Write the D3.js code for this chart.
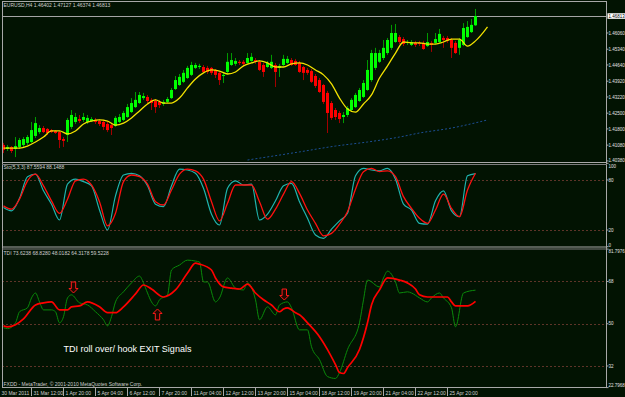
<!DOCTYPE html>
<html>
<head>
<meta charset="utf-8">
<script src="https://cdn.jsdelivr.net/npm/d3@7"></script>
<style>
  html, body { margin: 0; padding: 0; background: #021302; }
  svg { display: block; font-family: "Liberation Sans", Arial, sans-serif; }
</style>
</head>
<body>
<div id="chart"></div>
<script>
// EURUSD H4 candles (bar 0 = first visible bar)
const barOpen = [1.4109,1.4091,1.4100,1.4091,1.4100,1.4109,1.4118,1.4122,1.4149,1.4166,1.4184,1.4180,1.4175,1.4171,1.4166,1.4135,1.4153,1.4189,1.4211,1.4224,
  1.4220,1.4211,1.4215,1.4220,1.4215,1.4211,1.4202,1.4197,1.4193,1.4211,1.4220,1.4233,1.4255,1.4277,1.4295,1.4317,1.4322,1.4309,1.4304,1.4300,
  1.4291,1.4300,1.4317,1.4357,1.4375,1.4389,1.4406,1.4420,1.4451,1.4455,1.4455,1.4451,1.4451,1.4442,1.4429,1.4415,1.4433,1.4464,1.4469,1.4478,
  1.4478,1.4473,1.4482,1.4486,1.4478,1.4464,1.4455,1.4451,1.4464,1.4451,1.4464,1.4473,1.4486,1.4482,1.4473,1.4455,1.4442,1.4437,1.4415,1.4397,
  1.4375,1.4340,1.4295,1.4264,1.4251,1.4233,1.4242,1.4264,1.4277,1.4304,1.4322,1.4353,1.4397,1.4451,1.4478,1.4495,1.4517,1.4540,1.4566,1.4588,
  1.4579,1.4562,1.4553,1.4562,1.4562,1.4562,1.4548,1.4562,1.4562,1.4566,1.4584,1.4584,1.4575,1.4562,1.4540,1.4553,1.4588,1.4610,1.46402];
const barHigh = [1.4118,1.4109,1.4104,1.4144,1.4140,1.4144,1.4153,1.4211,1.4233,1.4197,1.4193,1.4184,1.4180,1.4175,1.4171,1.4144,1.4229,1.4264,1.4251,1.4242,
  1.4251,1.4242,1.4233,1.4229,1.4224,1.4220,1.4211,1.4206,1.4237,1.4246,1.4260,1.4291,1.4317,1.4344,1.4344,1.4340,1.4331,1.4317,1.4313,1.4309,
  1.4309,1.4322,1.4362,1.4415,1.4424,1.4442,1.4460,1.4478,1.4473,1.4469,1.4464,1.4460,1.4455,1.4446,1.4433,1.4433,1.4517,1.4517,1.4495,1.4486,
  1.4486,1.4517,1.4517,1.4495,1.4486,1.4473,1.4482,1.4509,1.4473,1.4469,1.4509,1.4504,1.4495,1.4491,1.4482,1.4460,1.4451,1.4446,1.4424,1.4406,
  1.4380,1.4349,1.4304,1.4273,1.4260,1.4255,1.4282,1.4317,1.4340,1.4362,1.4397,1.4486,1.4531,1.4540,1.4531,1.4575,1.4584,1.4642,1.4646,1.4597,
  1.4588,1.4575,1.4575,1.4571,1.4571,1.4571,1.4606,1.4571,1.4606,1.4624,1.4593,1.4593,1.4584,1.4571,1.4584,1.4650,1.4659,1.4668,1.47127];
const barLow = [1.4073,1.4082,1.4073,1.4055,1.4091,1.4100,1.4109,1.4118,1.4140,1.4158,1.4162,1.4153,1.4162,1.4158,1.4095,1.4100,1.4122,1.4180,1.4202,1.4206,
  1.4211,1.4202,1.4211,1.4202,1.4193,1.4175,1.4166,1.4153,1.4189,1.4206,1.4215,1.4229,1.4251,1.4273,1.4291,1.4309,1.4295,1.4264,1.4251,1.4273,
  1.4282,1.4295,1.4313,1.4353,1.4371,1.4384,1.4402,1.4415,1.4446,1.4446,1.4429,1.4424,1.4420,1.4406,1.4375,1.4384,1.4424,1.4460,1.4460,1.4464,
  1.4460,1.4469,1.4478,1.4469,1.4437,1.4411,1.4451,1.4446,1.4366,1.4411,1.4460,1.4469,1.4460,1.4460,1.4429,1.4397,1.4420,1.4384,1.4362,1.4340,
  1.4291,1.4162,1.4220,1.4220,1.4206,1.4206,1.4233,1.4255,1.4273,1.4300,1.4317,1.4349,1.4389,1.4442,1.4473,1.4486,1.4509,1.4531,1.4562,1.4557,
  1.4548,1.4553,1.4548,1.4544,1.4548,1.4531,1.4544,1.4522,1.4557,1.4562,1.4540,1.4562,1.4495,1.4513,1.4509,1.4548,1.4584,1.4606,1.46374];
const barClose = [1.4087,1.4100,1.4082,1.4104,1.4131,1.4135,1.4144,1.4175,1.4206,1.4184,1.4166,1.4162,1.4166,1.4162,1.4131,1.4127,1.4220,1.4242,1.4233,1.4215,
  1.4233,1.4229,1.4224,1.4211,1.4202,1.4189,1.4175,1.4184,1.4229,1.4233,1.4251,1.4277,1.4295,1.4309,1.4331,1.4326,1.4304,1.4295,1.4277,1.4286,
  1.4300,1.4313,1.4353,1.4397,1.4411,1.4429,1.4451,1.4464,1.4464,1.4460,1.4433,1.4433,1.4429,1.4420,1.4397,1.4420,1.4478,1.4486,1.4482,1.4473,
  1.4469,1.4495,1.4500,1.4478,1.4442,1.4433,1.4473,1.4478,1.4433,1.4460,1.4491,1.4491,1.4464,1.4464,1.4433,1.4429,1.4429,1.4389,1.4371,1.4344,
  1.4300,1.4251,1.4229,1.4233,1.4224,1.4242,1.4273,1.4309,1.4331,1.4353,1.4384,1.4442,1.4517,1.4517,1.4517,1.4540,1.4575,1.4606,1.4606,1.4566,
  1.4557,1.4566,1.4566,1.4553,1.4557,1.4535,1.4566,1.4553,1.4579,1.4602,1.4575,1.4571,1.4540,1.4517,1.4575,1.4628,1.4633,1.4642,1.46813];

// yellow moving average (shifted forward, runs past the last bar)
const maBars = [0,2,4,6,8,10,12,14,16,18,20,22,24,26,28,30,32,34,36,38,40,42,44,46,48,50,52,54,56,58,
  60,62,64,66,68,70,72,74,76,78,80,82,84,86,88,90,92,94,96,98,100,102,104,106,108,110,112,114,116,118,120,121];
const maValues = [1.4095,1.4095,1.4095,1.4104,1.4122,1.4144,1.4171,1.4171,1.4158,1.4171,1.4202,1.4215,1.4220,1.4215,1.4197,1.4206,1.4229,1.4260,1.4291,1.4309,
  1.4295,1.4295,1.4317,1.4362,1.4402,1.4429,1.4442,1.4437,1.4424,1.4433,1.4460,1.4473,1.4482,1.4473,1.4455,1.4455,1.4469,1.4473,1.4464,1.4442,
  1.4420,1.4380,1.4317,1.4269,1.4255,1.4291,1.4331,1.4406,1.4460,1.4517,1.4566,1.4562,1.4562,1.4557,1.4557,1.4566,1.4579,1.4579,1.4548,1.4571,1.4610,1.4633];

// slow blue dotted average
const slowBars = [61,74,83,91,99,104,112,121];
const slowValues = [1.4042,1.4078,1.4104,1.4122,1.4144,1.4162,1.4184,1.4220];

// Stochastic(5,3,3), every second bar
const stochMain = [47,43,58,84,87,67,51,32,75,81,78,73,44,20,61,86,88,85,73,51,48,73,93,92,88,70,39,26,70,79,
  74,75,32,39,55,73,76,54,34,14,10,21,31,40,85,94,92,91,94,81,51,44,28,27,55,67,43,36,85,87.6];
const stochSignal = [49,45,57,79,87,73,55,40,57,79,81,74,54,25,40,78,86,84,75,54,50,68,87,93,91,81,54,31,52,74,
  74,74,54,33,45,63,78,64,44,28,13,16,27,42,69,90,94,90,91,84,60,46,34,28,44,63,46,36,68,88.1];

// TDI price line (green) and trade signal line (red)
const tdiPriceBars = [0,1,3,4,6,7,8,9,10,12,13,14,15,16,17,19,20,21,23,25,26,27,28,30,32,34,35,36,37,38,39,41,42,44,46,48,49,50,51,53,
  54,56,58,60,61,63,64,66,68,69,71,72,74,76,77,79,81,83,84,86,89,90,91,94,95,96,98,99,101,102,104,106,107,109,110,112,113,115,118];
const tdiPrice = [48.3,47.9,50.4,55.1,56.8,61.0,63.1,59.3,55.9,55.9,55.1,50.4,53.0,61.0,62.3,58.9,58.5,58.0,55.1,51.7,49.1,53.0,59.3,63.6,67.4,70.3,67.4,63.1,59.3,57.6,
  60.2,62.3,72.9,75.0,77.1,76.7,76.3,67.8,67.8,59.3,61.0,69.5,65.2,64.4,67.4,60.2,51.7,57.2,53.8,58.0,59.3,56.8,47.4,47.4,40.2,34.7,27.5,26.7,29.2,39.0,
  50.4,60.2,68.6,65.7,69.5,72.4,67.8,63.1,63.6,63.1,61.0,59.3,61.0,63.1,61.0,56.8,48.7,63.1,64.3178];
const tdiSignalBars = [0,1,3,5,8,10,12,14,16,17,19,21,24,26,28,30,33,35,37,40,43,46,48,49,52,53,55,57,59,61,
  63,65,67,69,70,71,73,74,76,79,81,83,84,85,86,89,91,92,94,96,99,101,103,104,106,111,112,113,116,118];
const tdiSignal = [49.1,48.7,49.6,52.1,58.0,58.9,59.3,55.9,55.9,57.2,57.6,59.3,57.2,54.7,54.7,57.2,62.7,66.5,64.8,61.4,64.4,71.6,75.8,75.4,72.9,69.5,65.7,65.2,64.8,66.9,
  63.1,60.2,58.0,55.1,56.3,56.8,54.7,53.8,50.4,44.5,39.0,32.6,29.2,28.8,31.3,39.0,50.4,58.0,64.4,69.5,68.6,67.4,64.8,62.3,61.4,61.4,59.3,57.6,57.6,59.5228];

// hand drawn exit arrows on the TDI pane (tip position)
const arrowBars = [17.5, 38.5, 70.2];
const arrowValues = [63.1, 56.3, 60.1];
const arrowDirs = ["down", "up", "down"];

// axis ticks and labels
const priceTicks = [1.4606, 1.4534, 1.4464, 1.4392, 1.4322, 1.4250, 1.4180, 1.4108, 1.4038];
const stochTicks = [100, 80, 20, 0];
const stochLevels = [80, 20];
const tdiTicks = [81.7976, 68, 50, 32, 22.7968];
const tdiLevels = [68, 50, 32];
const timeBars = [-1, 7, 15, 23, 31, 39, 47, 55, 63, 71, 79, 87, 95, 103, 111];
const timeLabels = ["30 Mar 2011", "31 Mar 12:00", "1 Apr 20:00", "5 Apr 04:00", "6 Apr 12:00", "7 Apr 20:00",
  "11 Apr 04:00", "12 Apr 12:00", "13 Apr 20:00", "15 Apr 04:00", "18 Apr 12:00", "19 Apr 20:00",
  "21 Apr 04:00", "22 Apr 12:00", "25 Apr 20:00"];

const W = 625, H = 397;
const left = 2, right = 606;
const mainPane = { top: 1.5, bottom: 162 };
const stochPane = { top: 163.5, bottom: 246.5 };
const tdiPane = { top: 248.5, bottom: 387 };

const x = d3.scaleLinear().domain([0, 1]).range([3.5, 7.5]);
const yPrice = d3.scaleLinear().domain([1.40332, 1.47436]).range([162, 2]);
const yStoch = d3.scaleLinear().domain([0, 100]).range([246.7, 163.3]);
const yTdi = d3.scaleLinear().domain([22.7968, 81.7976]).range([387.6, 249.1]);

const svg = d3.select("#chart").append("svg")
  .attr("width", W).attr("height", H)
  .attr("viewBox", [0, 0, W, H]);

svg.append("rect").attr("width", W).attr("height", H).attr("fill", "#021302");

const defs = svg.append("defs");
[["clip-main", mainPane], ["clip-stoch", stochPane], ["clip-tdi", tdiPane]].forEach(([id, p]) => {
  defs.append("clipPath").attr("id", id)
    .append("rect")
      .attr("x", left + 0.5).attr("y", p.top)
      .attr("width", right - left - 0.5).attr("height", p.bottom - p.top);
});

const small = 5;
const axisSize = 4.5;
const textColor = "#cfcfcf";

// ---- main pane ----
const gMain = svg.append("g").attr("clip-path", "url(#clip-main)");
const bars = d3.range(barOpen.length);
const isUp = i => barClose[i] >= barOpen[i];
const last = bars.length - 1;

// bid line
gMain.append("line")
  .attr("x1", left).attr("x2", right)
  .attr("y1", Math.round(yPrice(barClose[last])) + 0.5)
  .attr("y2", Math.round(yPrice(barClose[last])) + 0.5)
  .attr("stroke", "#a4a4a4");

gMain.append("path")
  .datum(slowBars.map((b, i) => [b, slowValues[i]]))
  .attr("fill", "none")
  .attr("stroke", "#1d4f95")
  .attr("stroke-dasharray", "2,2")
  .attr("d", d3.line().x(d => x(d[0])).y(d => yPrice(d[1])).curve(d3.curveMonotoneX));

gMain.append("g")
  .selectAll("line")
  .data(bars)
  .join("line")
    .attr("x1", i => x(i)).attr("x2", i => x(i))
    .attr("y1", i => yPrice(barHigh[i])).attr("y2", i => yPrice(barLow[i]))
    .attr("stroke", i => isUp(i) ? "#009a00" : "#a30000");

gMain.append("g")
  .selectAll("rect")
  .data(bars)
  .join("rect")
    .attr("x", i => x(i) - 1.5)
    .attr("width", 3)
    .attr("y", i => yPrice(Math.max(barOpen[i], barClose[i])))
    .attr("height", i => Math.max(1, Math.abs(yPrice(barOpen[i]) - yPrice(barClose[i]))))
    .attr("fill", i => isUp(i) ? "#00ff00" : "#ff0000");

gMain.append("path")
  .datum(maBars.map((b, i) => [b, maValues[i]]))
  .attr("fill", "none")
  .attr("stroke", "#f2e200")
  .attr("stroke-width", 1.3)
  .attr("d", d3.line().x(d => x(d[0])).y(d => yPrice(d[1])).curve(d3.curveMonotoneX));

svg.append("text")
  .attr("x", 3.5).attr("y", 7)
  .attr("font-size", small).attr("fill", textColor)
  .text(`EURUSD,H4  ${[barOpen[last], barHigh[last], barLow[last], barClose[last]].map(d3.format(".5f")).join(" ")}`);

// ---- stochastic pane ----
const gSto = svg.append("g").attr("clip-path", "url(#clip-stoch)");
const levelLine = (g, scale, levels) => g.append("g")
  .selectAll("line")
  .data(levels)
  .join("line")
    .attr("x1", left).attr("x2", right)
    .attr("y1", d => Math.round(scale(d)) + 0.5).attr("y2", d => Math.round(scale(d)) + 0.5)
    .attr("stroke", "#5e3428")
    .attr("stroke-dasharray", "2,2");

levelLine(gSto, yStoch, stochLevels);
const stochBars = d3.range(0, barOpen.length, 2);
const stoLine = d3.line().x((d, i) => x(stochBars[i])).y(d => yStoch(d)).curve(d3.curveMonotoneX);
gSto.append("path").datum(stochMain)
  .attr("fill", "none").attr("stroke", "#1fb3ad").attr("stroke-width", 1.2)
  .attr("d", stoLine);
gSto.append("path").datum(stochSignal)
  .attr("fill", "none").attr("stroke", "#ff1010").attr("stroke-width", 1.3)
  .attr("d", stoLine);

svg.append("text")
  .attr("x", 3.5).attr("y", 169)
  .attr("font-size", small).attr("fill", textColor)
  .text(`Sto(5,3,3) ${d3.format(".4f")(87.5594)} ${d3.format(".4f")(88.1488)}`);

// ---- TDI pane ----
const gTdi = svg.append("g").attr("clip-path", "url(#clip-tdi)");
levelLine(gTdi, yTdi, tdiLevels);
const tdiLine = d3.line().x(d => x(d[0])).y(d => yTdi(d[1])).curve(d3.curveMonotoneX);
gTdi.append("path")
  .datum(tdiPriceBars.map((b, i) => [b, tdiPrice[i]]))
  .attr("fill", "none").attr("stroke", "#0a8a0a").attr("stroke-width", 1)
  .attr("d", tdiLine);
gTdi.append("path")
  .datum(tdiSignalBars.map((b, i) => [b, tdiSignal[i]]))
  .attr("fill", "none").attr("stroke", "#ff0000").attr("stroke-width", 1.7)
  .attr("d", tdiLine);

// hollow block arrows
const arrowPath = (cx, tip, dir) => {
  const s = dir === "down" ? -1 : 1;
  const p = d3.path();
  p.moveTo(cx, tip);
  p.lineTo(cx + 4.5, tip + s * 4.5);
  p.lineTo(cx + 2.2, tip + s * 4.5);
  p.lineTo(cx + 2.2, tip + s * 11);
  p.lineTo(cx - 2.2, tip + s * 11);
  p.lineTo(cx - 2.2, tip + s * 4.5);
  p.lineTo(cx - 4.5, tip + s * 4.5);
  p.closePath();
  return p.toString();
};
gTdi.append("g")
  .selectAll("path")
  .data(arrowBars)
  .join("path")
    .attr("d", (b, i) => arrowPath(x(b), yTdi(arrowValues[i]), arrowDirs[i]))
    .attr("fill", "#200800")
    .attr("stroke", "#ff1a1a")
    .attr("stroke-width", 1);

gTdi.append("text")
  .attr("x", x(15)).attr("y", yTdi(38))
  .attr("font-size", 9).attr("fill", "#ffffff")
  .text("TDI roll over/ hook EXIT Signals");

svg.append("text")
  .attr("x", 3.5).attr("y", 255)
  .attr("font-size", small).attr("fill", textColor)
  .text("TDI 73.6238 68.8280 48.0182 64.3178 59.5228");

svg.append("text")
  .attr("x", 3.5).attr("y", 385.5)
  .attr("font-size", small).attr("fill", textColor)
  .text("FXDD - MetaTrader, \u00a9 2001-2010 MetaQuotes Software Corp.");

// ---- frames and separators ----
const frame = svg.append("g").attr("fill", "none").attr("stroke", "#a8a8a8");
frame.append("line").attr("x1", left + 0.5).attr("x2", left + 0.5).attr("y1", mainPane.top).attr("y2", tdiPane.bottom);
frame.append("line").attr("x1", right + 0.5).attr("x2", right + 0.5).attr("y1", mainPane.top).attr("y2", tdiPane.bottom);
frame.append("line").attr("x1", left).attr("x2", right + 1).attr("y1", mainPane.top).attr("y2", mainPane.top);
frame.append("line").attr("x1", left).attr("x2", right + 1).attr("y1", tdiPane.bottom + 0.5).attr("y2", tdiPane.bottom + 0.5);
[mainPane.bottom, stochPane.bottom].forEach(yb => {
  frame.append("line").attr("x1", left).attr("x2", right + 1).attr("y1", yb + 0.5).attr("y2", yb + 0.5);
  frame.append("line").attr("x1", left).attr("x2", right + 1).attr("y1", yb + 2.5).attr("y2", yb + 2.5)
    .attr("stroke", "#7c7c7c");
});

// ---- right axes ----
const rightAxis = (ticks, scale, pane, fmt) => {
  const g = svg.append("g");
  g.selectAll("line").data(ticks).join("line")
    .attr("x1", right).attr("x2", right + 2.5)
    .attr("y1", d => scale(d)).attr("y2", d => scale(d))
    .attr("stroke", "#a8a8a8");
  g.selectAll("text").data(ticks).join("text")
    .attr("x", right + 2.5)
    .attr("y", d => Math.min(pane.bottom - 1.5, Math.max(pane.top + 2.5, scale(d))))
    .attr("dy", "0.35em")
    .attr("font-size", axisSize).attr("fill", "#e2e2e2")
    .text(fmt);
};
rightAxis(priceTicks, yPrice, mainPane, d3.format(".5f"));
rightAxis(stochTicks, yStoch, stochPane, d => String(d));
rightAxis(tdiTicks, yTdi, tdiPane, d => String(d));

const bidY = yPrice(barClose[last]);
svg.append("rect")
  .attr("x", right + 1.5).attr("y", bidY - 2.8)
  .attr("width", 17.5).attr("height", 5.6)
  .attr("fill", "#ffffff");
svg.append("text")
  .attr("x", right + 2.5).attr("y", bidY).attr("dy", "0.35em")
  .attr("font-size", axisSize).attr("fill", "#000")
  .text(d3.format(".5f")(barClose[last]));

// ---- time axis ----
const gTime = svg.append("g");
gTime.selectAll("line").data(timeBars).join("line")
  .attr("x1", d => x(d)).attr("x2", d => x(d))
  .attr("y1", tdiPane.bottom).attr("y2", 396)
  .attr("stroke", "#a8a8a8");
gTime.selectAll("text").data(timeBars).join("text")
  .attr("x", d => x(d) + 2)
  .attr("y", 395)
  .attr("font-size", small).attr("fill", textColor)
  .text((d, i) => timeLabels[i]);
</script>
</body>
</html>
